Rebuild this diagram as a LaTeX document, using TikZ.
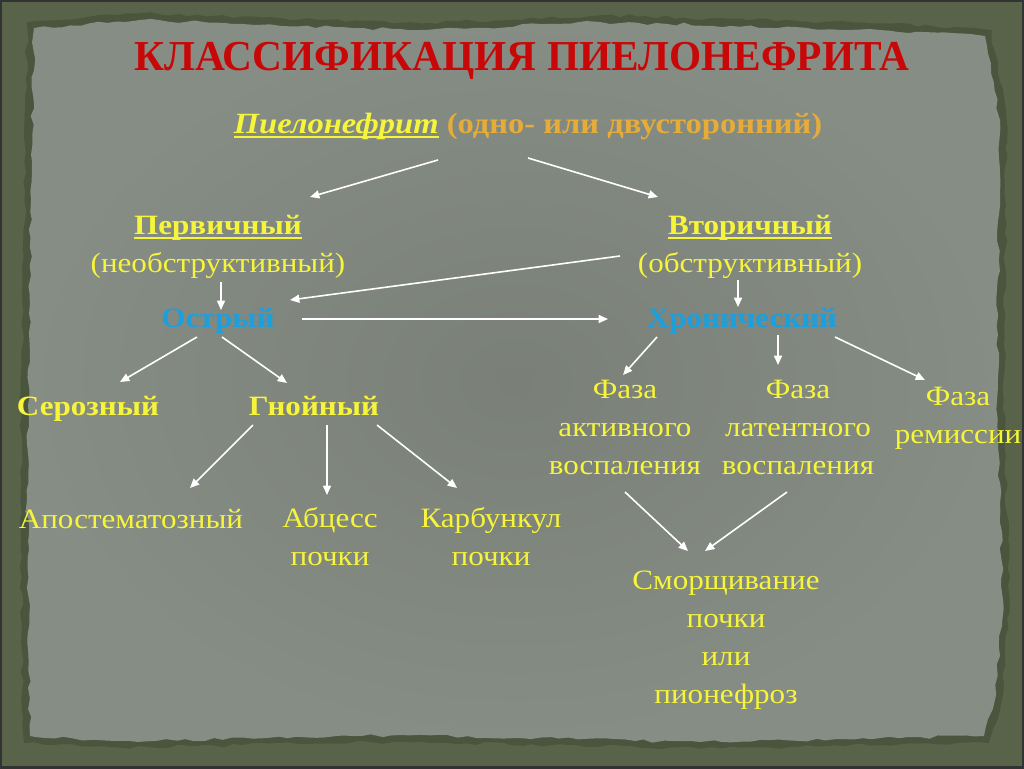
\documentclass[tikz,border=0pt]{standalone}
\usepackage{fontspec}
\setmainfont{Liberation Serif}
\newfontfamily\bodyf[FakeStretch=1.11]{Liberation Serif}
\newfontfamily\titlef[FakeStretch=0.97]{Liberation Serif}
\usetikzlibrary{arrows.meta,decorations.pathmorphing}
\definecolor{frameC}{HTML}{58634A}
\definecolor{frameD}{HTML}{3E4834}
\definecolor{paperC}{HTML}{7A8078}
\definecolor{paperL}{HTML}{868D84}
\definecolor{txtY}{HTML}{F6F53C}
\definecolor{txtO}{HTML}{E6AC3A}
\definecolor{txtB}{HTML}{1C9FDD}
\definecolor{ttlR}{HTML}{C80808}
\newcommand\ulin[1]{\setbox0\hbox{#1}\rlap{\rule[-4pt]{\wd0}{1.6pt}}\box0}
\newcommand\mlines[1]{\begin{tabular}[t]{@{}c@{}}#1\end{tabular}}
\tikzset{
  lbl/.style={anchor=base, inner sep=0pt, text=txtY, font=\bodyf\fontsize{21}{28.5}\selectfont},
  lblb/.style={lbl, font=\bodyf\bfseries\fontsize{21}{28.5}\selectfont},
  lblB/.style={lblb, text=txtB},
  ttl/.style={anchor=base, inner sep=0pt, text=ttlR, font=\titlef\bfseries\fontsize{32}{36}\selectfont},
  arr/.style={draw=white, line width=1.2pt, -{Triangle[length=7pt,width=6pt]}},
  paperedge/.style={decorate, decoration={random steps, segment length=7pt, amplitude=1.3pt}}
}
\begin{document}
\begin{tikzpicture}[x=0.75pt,y=-0.75pt]
\useasboundingbox (0,0) rectangle (1024,768);
\fill[frameC] (0,0) rectangle (1024,768);
\pgfmathsetseed{11}
\def\paperpath{(34,28) -- (140,20) -- (420,30) -- (600,22) -- (880,30) -- (985,36) -- (1000,120) -- (997,400) -- (1003,600) -- (995,700) -- (984,736) -- (700,742) -- (400,735) -- (120,741) -- (30,736) -- (27,500) -- (31,200) -- cycle}
\path[draw=frameD, line width=10pt, opacity=.5, paperedge] \paperpath;
\path[paperedge, inner color=paperC, outer color=paperL] \paperpath;
\draw[black!80, line width=2.5pt] (0,0) rectangle (1024,768);

\node[ttl] (title) at (522,70) {КЛАССИФИКАЦИЯ ПИЕЛОНЕФРИТА};
\node[lbl, font=\bodyf\fontsize{22}{28.5}\selectfont] (root) at (528,133) {{\color{txtY}\ulin{\bfseries\itshape Пиелонефрит}} {\color{txtO}\bfseries (одно- или двусторонний)}};
\node[lbl] (perv) at (218,234) {\mlines{\ulin{\bfseries Первичный}\\(необструктивный)}};
\node[lbl] (vtor) at (750,234) {\mlines{\ulin{\bfseries Вторичный}\\(обструктивный)}};
\node[lblB] (ostr) at (218,327) {Острый};
\node[lblB] (chron) at (742,327) {Хронический};
\node[lblb] (seroz) at (88,415) {Серозный};
\node[lblb] (gnoi) at (314,415) {Гнойный};
\node[lbl] (apost) at (131,528) {Апостематозный};
\node[lbl] (abc) at (330,527) {\mlines{Абцесс\\почки}};
\node[lbl] (karb) at (491,527) {\mlines{Карбункул\\почки}};
\node[lbl] (faza1) at (625,398) {\mlines{Фаза\\активного\\воспаления}};
\node[lbl] (faza2) at (798,398) {\mlines{Фаза\\латентного\\воспаления}};
\node[lbl] (faza3) at (958,405) {\mlines{Фаза\\ремиссии}};
\node[lbl] (smor) at (726,589) {\mlines{Сморщивание\\почки\\или\\пионефроз}};

\draw[arr] ([shift={(-90,27)}]root.base) -- ([shift={(92,-37)}]perv.base);
\draw[arr] ([shift={(0,25)}]root.base) -- ([shift={(-92,-37)}]vtor.base);
\draw[arr] ([shift={(3,48)}]perv.base) -- ([shift={(3,-17)}]ostr.base);
\draw[arr] ([shift={(-130,22)}]vtor.base) -- ([shift={(72,-27)}]ostr.base);
\draw[arr] ([shift={(-12,46)}]vtor.base) -- ([shift={(-4,-20)}]chron.base);
\draw[arr] ([shift={(84,-8)}]ostr.base) -- ([shift={(-134,-8)}]chron.base);
\draw[arr] ([shift={(-21,10)}]ostr.base) -- ([shift={(32,-33)}]seroz.base);
\draw[arr] ([shift={(4,10)}]ostr.base) -- ([shift={(-27,-32)}]gnoi.base);
\draw[arr] ([shift={(-61,10)}]gnoi.base) -- ([shift={(59,-40)}]apost.base);
\draw[arr] ([shift={(13,10)}]gnoi.base) -- ([shift={(-3,-32)}]abc.base);
\draw[arr] ([shift={(63,10)}]gnoi.base) -- ([shift={(-34,-39)}]karb.base);
\draw[arr] ([shift={(-85,10)}]chron.base) -- ([shift={(-2,-23)}]faza1.base);
\draw[arr] ([shift={(36,8)}]chron.base) -- ([shift={(-20,-33)}]faza2.base);
\draw[arr] ([shift={(93,10)}]chron.base) -- ([shift={(-33,-25)}]faza3.base);
\draw[arr] ([shift={(0,94)}]faza1.base) -- ([shift={(-38,-38)}]smor.base);
\draw[arr] ([shift={(-11,94)}]faza2.base) -- ([shift={(-21,-38)}]smor.base);
\end{tikzpicture}
\end{document}
